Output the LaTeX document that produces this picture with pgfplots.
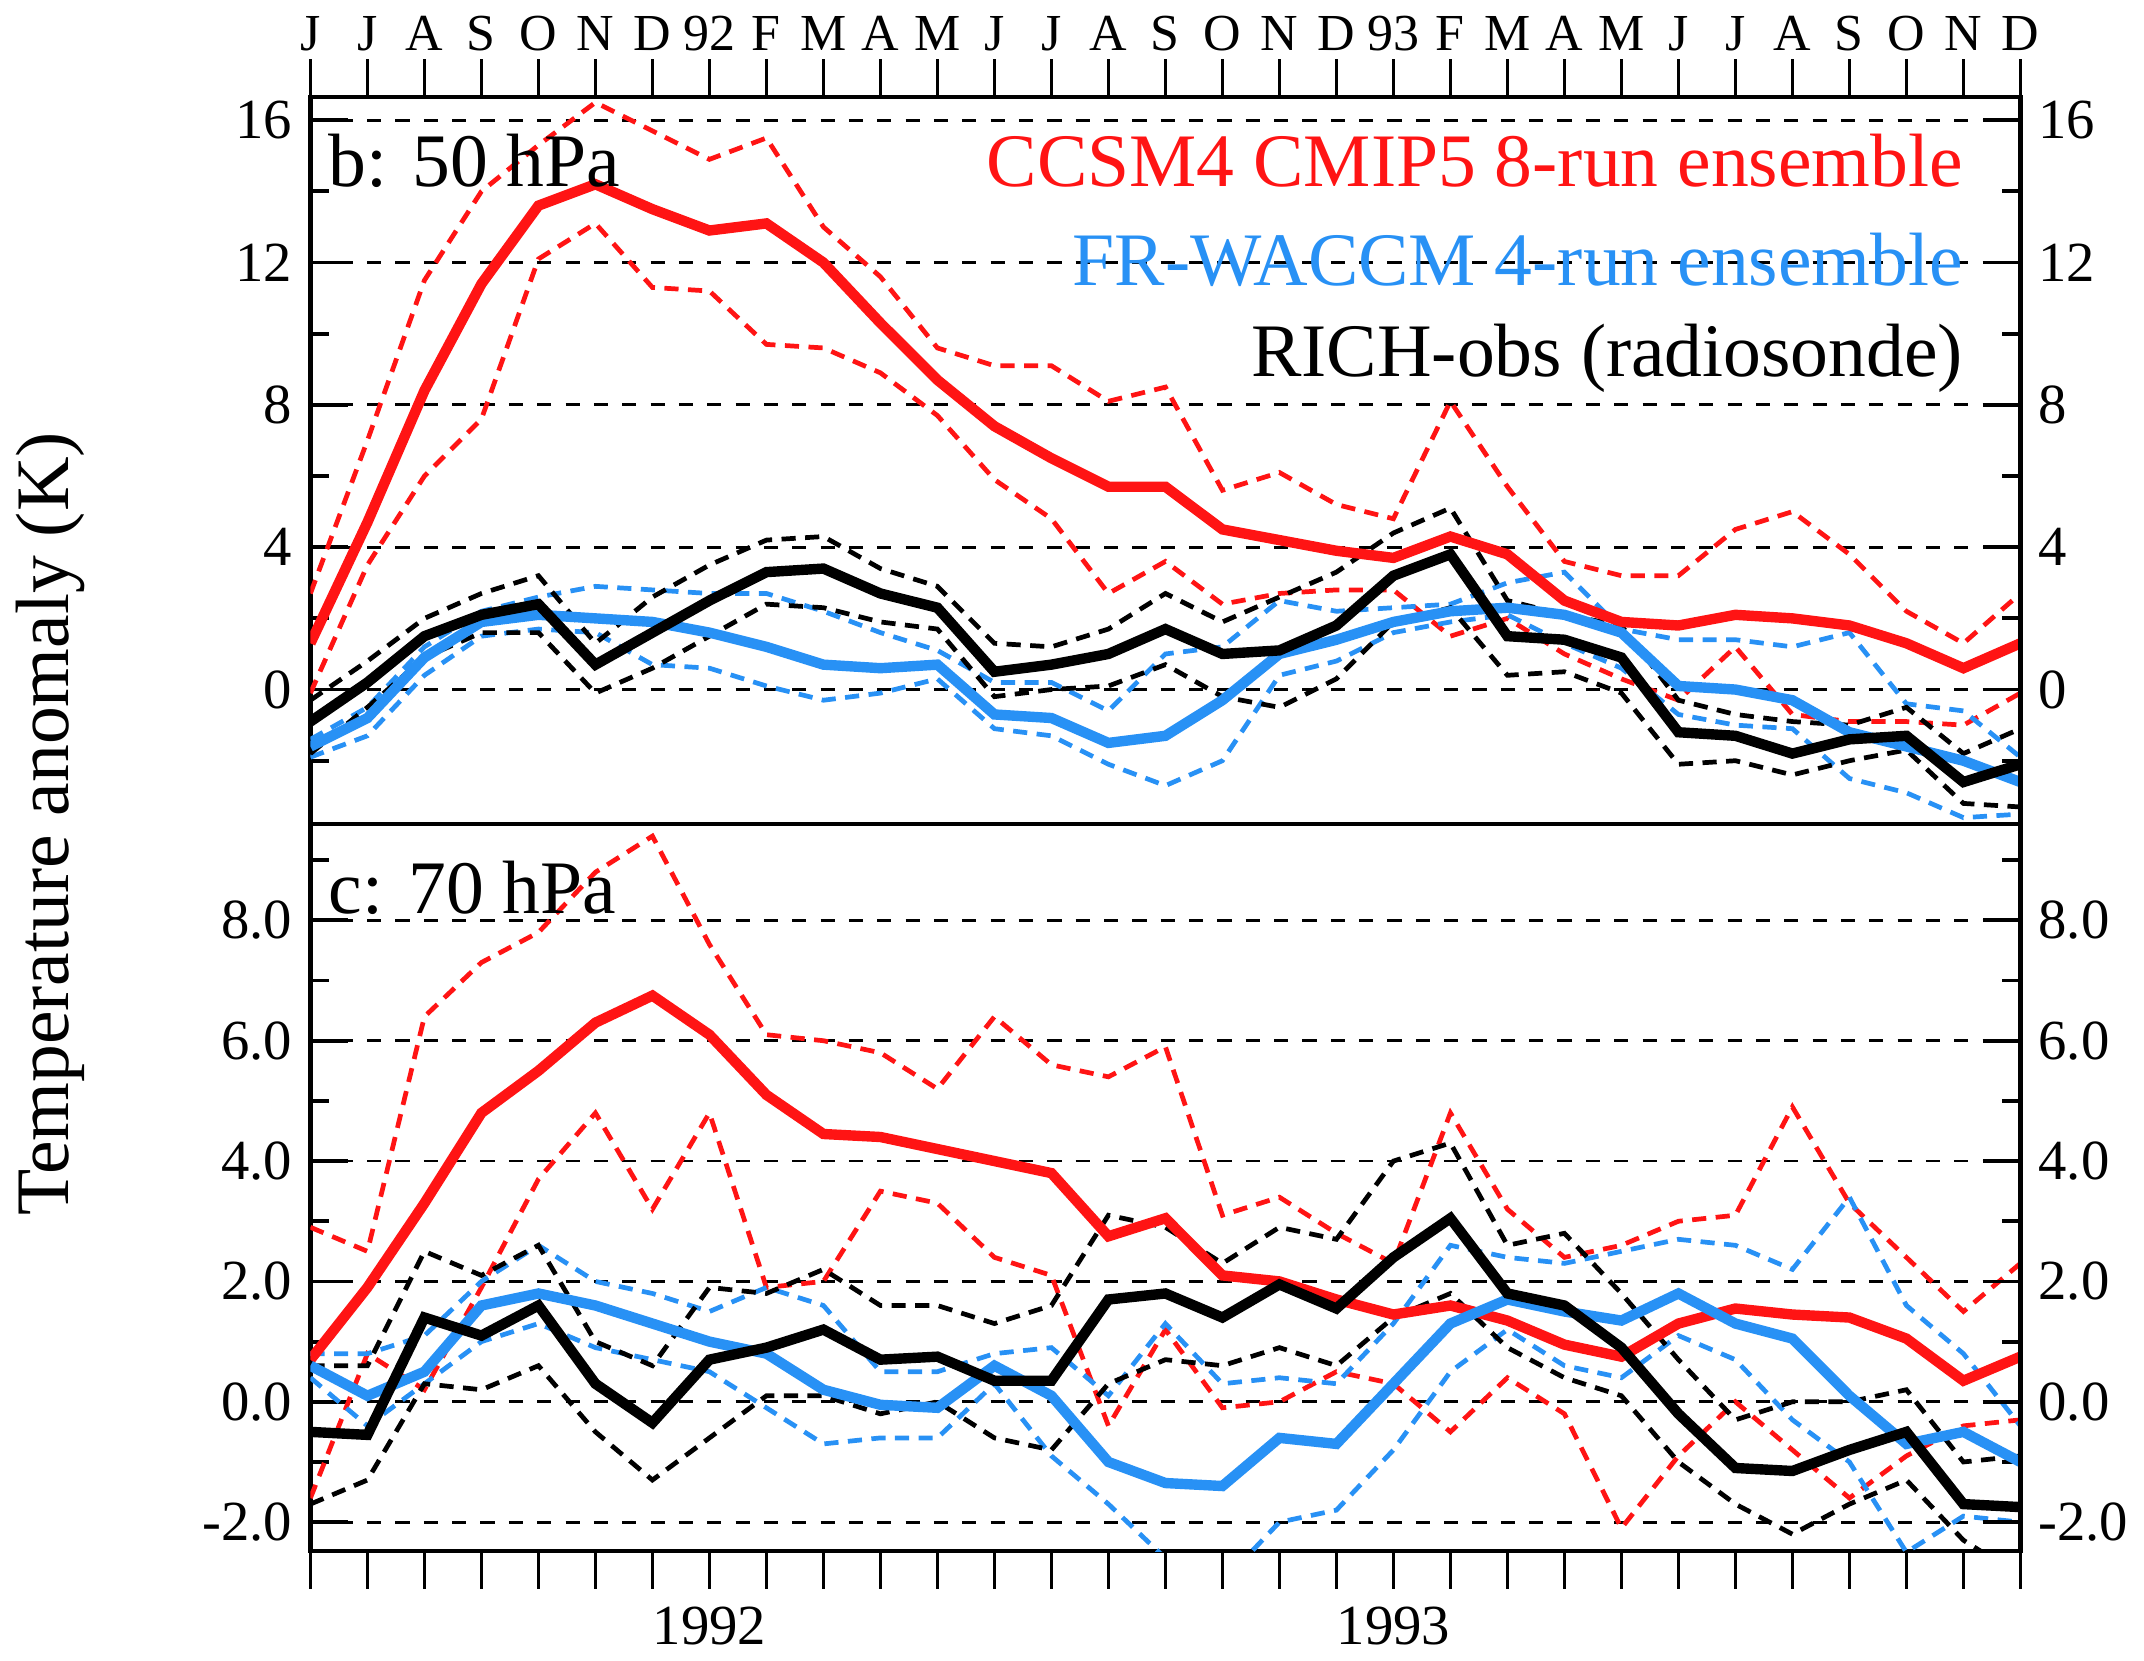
\documentclass[border=0pt]{standalone}
\usepackage{pgfplots}
\usepackage{pgfplotstable}
\pgfplotsset{compat=1.18}
\usepackage{fontspec}
\setmainfont{Liberation Serif}
\definecolor{myred}{RGB}{255,20,20}
\definecolor{myblue}{RGB}{40,145,245}
\pgfplotstableread{
i rs ru rl bs bu bl ks ku kl
0 1.3 2.7 -0.1 -1.6 -1.4 -1.9 -0.9 -0.3 -1.8
1 4.7 7.0 3.5 -0.8 -0.5 -1.3 0.2 0.8 -0.5
2 8.4 11.5 6.0 0.9 1.2 0.4 1.5 2.0 0.9
3 11.4 14.0 7.6 1.9 2.2 1.5 2.1 2.7 1.6
4 13.6 15.3 12.1 2.1 2.6 1.7 2.4 3.2 1.6
5 14.2 16.5 13.1 2.0 2.9 1.6 0.7 1.3 -0.1
6 13.5 15.7 11.3 1.9 2.8 0.7 1.6 2.6 0.6
7 12.9 14.9 11.2 1.6 2.7 0.6 2.5 3.5 1.5
8 13.1 15.5 9.7 1.2 2.7 0.1 3.3 4.2 2.4
9 12.0 13.0 9.6 0.7 2.2 -0.3 3.4 4.3 2.3
10 10.3 11.6 8.9 0.6 1.6 -0.1 2.7 3.4 1.9
11 8.7 9.6 7.7 0.7 1.1 0.3 2.3 2.9 1.7
12 7.4 9.1 5.9 -0.7 0.2 -1.1 0.5 1.3 -0.2
13 6.5 9.1 4.8 -0.8 0.2 -1.3 0.7 1.2 0.0
14 5.7 8.1 2.7 -1.5 -0.6 -2.1 1.0 1.7 0.1
15 5.7 8.5 3.6 -1.3 1.0 -2.7 1.7 2.7 0.7
16 4.5 5.6 2.4 -0.3 1.2 -2.0 1.0 1.9 -0.2
17 4.2 6.1 2.7 1.0 2.5 0.4 1.1 2.6 -0.5
18 3.9 5.2 2.8 1.4 2.2 0.8 1.8 3.3 0.3
19 3.7 4.8 2.8 1.9 2.3 1.6 3.2 4.4 1.9
20 4.3 8.1 1.5 2.2 2.4 1.9 3.8 5.1 2.3
21 3.8 5.7 2.0 2.3 3.0 2.1 1.5 2.5 0.4
22 2.5 3.6 1.0 2.1 3.3 1.3 1.4 2.1 0.5
23 1.9 3.2 0.3 1.6 1.7 0.6 0.9 1.8 -0.1
24 1.8 3.2 -0.3 0.1 1.4 -0.7 -1.2 -0.3 -2.1
25 2.1 4.5 1.2 0.0 1.4 -1.0 -1.3 -0.7 -2.0
26 2.0 5.0 -0.7 -0.3 1.2 -1.1 -1.8 -0.9 -2.4
27 1.8 3.8 -0.9 -1.2 1.6 -2.5 -1.4 -1.0 -2.0
28 1.3 2.2 -0.9 -1.6 -0.4 -2.9 -1.3 -0.5 -1.7
29 0.6 1.3 -1.0 -2.0 -0.6 -3.6 -2.6 -1.8 -3.2
30 1.3 2.7 -0.1 -2.6 -1.9 -3.5 -2.1 -1.1 -3.3
}\tabtop
\pgfplotstableread{
i rs ru rl bs bu bl ks ku kl
0 0.7 2.9 -1.6 0.6 0.8 0.4 -0.5 0.6 -1.7
1 1.9 2.5 0.8 0.1 0.8 -0.4 -0.55 0.6 -1.3
2 3.3 6.4 0.2 0.5 1.1 0.3 1.4 2.5 0.3
3 4.8 7.3 1.9 1.6 2.0 1.0 1.1 2.1 0.2
4 5.5 7.8 3.7 1.8 2.6 1.3 1.6 2.6 0.6
5 6.3 8.8 4.8 1.6 2.0 0.9 0.3 1.0 -0.5
6 6.75 9.4 3.2 1.3 1.8 0.7 -0.35 0.6 -1.3
7 6.1 7.6 4.8 1.0 1.5 0.5 0.7 1.9 -0.6
8 5.1 6.1 1.9 0.8 1.9 -0.1 0.9 1.8 0.1
9 4.45 6.0 2.0 0.2 1.6 -0.7 1.2 2.2 0.1
10 4.4 5.8 3.5 -0.05 0.5 -0.6 0.7 1.6 -0.2
11 4.2 5.2 3.3 -0.1 0.5 -0.6 0.75 1.6 0.0
12 4.0 6.4 2.4 0.6 0.8 0.3 0.35 1.3 -0.6
13 3.8 5.6 2.1 0.1 0.9 -0.9 0.35 1.6 -0.8
14 2.75 5.4 -0.4 -1.0 0.1 -1.7 1.7 3.1 0.3
15 3.05 5.9 1.2 -1.35 1.3 -2.6 1.8 2.9 0.7
16 2.1 3.1 -0.1 -1.4 0.3 -3.0 1.4 2.3 0.6
17 2.0 3.4 0.0 -0.6 0.4 -2.0 1.95 2.9 0.9
18 1.7 2.8 0.5 -0.7 0.3 -1.8 1.55 2.7 0.6
19 1.45 2.3 0.3 0.3 1.3 -0.8 2.4 4.0 1.4
20 1.6 4.8 -0.5 1.3 2.6 0.5 3.05 4.3 1.8
21 1.35 3.2 0.4 1.7 2.4 1.2 1.8 2.6 0.9
22 0.95 2.4 -0.2 1.5 2.3 0.6 1.6 2.8 0.4
23 0.75 2.6 -2.1 1.35 2.5 0.4 0.9 1.8 0.1
24 1.3 3.0 -0.9 1.8 2.7 1.1 -0.2 0.7 -1.0
25 1.55 3.1 0.0 1.3 2.6 0.7 -1.1 -0.3 -1.7
26 1.45 4.9 -0.8 1.05 2.2 -0.3 -1.15 0.0 -2.2
27 1.4 3.3 -1.6 0.1 3.4 -1.0 -0.8 0.0 -1.7
28 1.05 2.4 -0.9 -0.7 1.6 -2.5 -0.5 0.2 -1.3
29 0.35 1.5 -0.4 -0.5 0.8 -1.9 -1.7 -1.0 -2.3
30 0.75 2.3 -0.3 -1.0 -0.4 -2.0 -1.75 -0.9 -2.9
}\tabbot
\pgfplotsset{
  base/.style={scale only axis, width=362pt, height=153.9pt, xmin=0, xmax=30,
    tick label style={font=\fontsize{12}{12}\selectfont}, line width=1pt,
    major tick length=8pt, minor tick length=4pt, tick align=inside,
    every tick/.style={black, line width=0.8pt},
    ymajorgrids, major grid style={black, dashed, line width=0.6pt}},
  sol/.style={line width=2.2pt, no marks},
  das/.style={line width=1pt, dashed, dash pattern=on 3pt off 2pt, no marks},
}
\newcommand\panel[1]{%
  \addplot[das, myred] table[x=i,y=ru]{#1};
  \addplot[das, myred] table[x=i,y=rl]{#1};
  \addplot[das, myblue] table[x=i,y=bu]{#1};
  \addplot[das, myblue] table[x=i,y=bl]{#1};
  \addplot[das, black] table[x=i,y=ku]{#1};
  \addplot[das, black] table[x=i,y=kl]{#1};
  \addplot[sol, myred] table[x=i,y=rs]{#1};
  \addplot[sol, myblue] table[x=i,y=bs]{#1};
  \addplot[sol, black] table[x=i,y=ks]{#1};
}
\begin{document}
\begin{tikzpicture}
% top panel
\begin{axis}[base, at={(0,153.9pt)}, ymin=-3.78, ymax=16.65,
  ytick={0,4,...,16}, minor ytick={-2,2,6,10,14}, ytick pos=both,
  xtick={0,...,30}, xtick pos=upper, xticklabel pos=upper,
  x tick style={yshift=8pt},
  xticklabels={J,J,A,S,O,N,D,92,F,M,A,M,J,J,A,S,O,N,D,93,F,M,A,M,J,J,A,S,O,N,D},
  xticklabel style={yshift=6pt, font=\fontsize{11}{11}\selectfont},
  yticklabel style={/pgf/number format/assume math mode=true}]
\panel{\tabtop}
\node[anchor=east, font=\fontsize{16}{16}\selectfont, text=myred] at (rel axis cs:0.977,0.912) {CCSM4 CMIP5 8-run ensemble};
\node[anchor=east, font=\fontsize{16}{16}\selectfont, text=myblue] at (rel axis cs:0.977,0.776) {FR-WACCM 4-run ensemble};
\node[anchor=east, font=\fontsize{16}{16}\selectfont] at (rel axis cs:0.977,0.64) {RICH-obs (radiosonde)};
\node[anchor=west, font=\fontsize{16}{16}\selectfont] at (rel axis cs:0.0,0.912) {b: 50 hPa};
\end{axis}
\begin{axis}[base, at={(0,153.9pt)}, ymin=-3.78, ymax=16.65, axis y line*=right, axis x line=none,
  ytick={0,4,...,16}, ymajorgrids=false, yticklabel style={/pgf/number format/assume math mode=true}]
\addplot[draw=none] coordinates {(0,0)};
\end{axis}
% bottom panel
\begin{axis}[base, at={(0,0)}, ymin=-2.48, ymax=9.6,
  ytick={-2,0,...,8}, minor ytick={-1,1,...,9}, ytick pos=both,
  xtick={0,...,30}, xtick pos=lower, x tick style={yshift=-8pt},
  xticklabels={,,,,,,,1992,,,,,,,,,,,,1993,,,,,,,,,,,},
  xticklabel style={yshift=-8pt},
  yticklabel style={/pgf/number format/.cd, fixed, fixed zerofill, precision=1, assume math mode=true},
  ylabel={Temperature anomaly (K)},
  ylabel style={font=\fontsize{16}{16}\selectfont, at={(axis description cs:0,1)}, anchor=south, yshift=44pt}]
\panel{\tabbot}
\node[anchor=west, font=\fontsize{16}{16}\selectfont] at (rel axis cs:0.0,0.912) {c: 70 hPa};
\end{axis}
\begin{axis}[base, at={(0,0)}, ymin=-2.48, ymax=9.6, axis y line*=right, axis x line=none,
  ytick={-2,0,...,8}, ymajorgrids=false,
  yticklabel style={/pgf/number format/.cd, fixed, fixed zerofill, precision=1, assume math mode=true}]
\addplot[draw=none] coordinates {(0,0)};
\end{axis}
\end{tikzpicture}
\end{document}
